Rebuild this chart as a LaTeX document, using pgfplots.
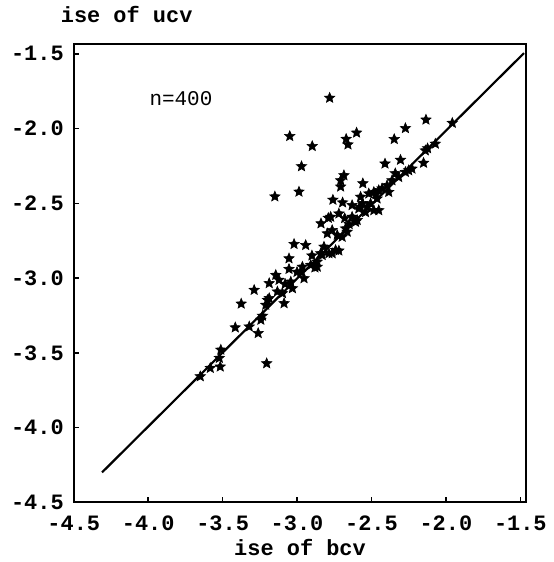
\documentclass[border=0pt]{standalone}
\usepackage{pgfplots}
\pgfplotsset{compat=1.18}
\usepackage{fontspec}
\setmainfont{Liberation Mono}
\pgfdeclareplotmark{fstar}{%
  \pgfpathmoveto{\pgfpointpolar{90}{\pgfplotmarksize}}%
  \pgfpathlineto{\pgfpointpolar{126}{0.45\pgfplotmarksize}}%
  \pgfpathlineto{\pgfpointpolar{162}{\pgfplotmarksize}}%
  \pgfpathlineto{\pgfpointpolar{198}{0.45\pgfplotmarksize}}%
  \pgfpathlineto{\pgfpointpolar{234}{\pgfplotmarksize}}%
  \pgfpathlineto{\pgfpointpolar{270}{0.45\pgfplotmarksize}}%
  \pgfpathlineto{\pgfpointpolar{306}{\pgfplotmarksize}}%
  \pgfpathlineto{\pgfpointpolar{342}{0.45\pgfplotmarksize}}%
  \pgfpathlineto{\pgfpointpolar{18}{\pgfplotmarksize}}%
  \pgfpathlineto{\pgfpointpolar{54}{0.45\pgfplotmarksize}}%
  \pgfpathclose
  \pgfusepathqfillstroke
}
\begin{document}
\begin{tikzpicture}
\begin{axis}[
  scale only axis, width=227pt, height=230pt,
  xmin=-4.5, xmax=-1.46, ymin=-4.5, ymax=-1.433,
  xtick={-4.5,-4.0,-3.5,-3.0,-2.5,-2.0,-1.5},
  ytick={-4.5,-4.0,-3.5,-3.0,-2.5,-2.0,-1.5},
  xtick pos=bottom, ytick pos=left,
  tick align=inside, major tick length=2.5pt,
  axis line style={line width=1pt},
  tick style={line width=0.8pt, black},
  /pgf/number format/assume math mode=true,
  /pgf/number format/.cd, fixed, fixed zerofill, precision=1, /pgfplots/.cd,
  tick label style={font=\fontsize{11}{13}\selectfont\bfseries},
  xticklabel style={yshift=-3.5pt},
  yticklabel style={xshift=-1.5pt},
  xlabel={ise of bcv},
  xlabel style={font=\fontsize{11}{13}\selectfont\bfseries, yshift=3pt},
  ylabel={ise of ucv},
  ylabel style={font=\fontsize{11}{13}\selectfont\bfseries, rotate=-90, at={(rel axis cs:0,1)}, anchor=base west, xshift=-10pt, yshift=10.5pt},
  clip=false,
]
\addplot[black, line width=1.1pt] coordinates {(-4.31,-4.30) (-1.475,-1.495)};
\addplot[only marks, mark=fstar, mark size=2.7pt, black, mark options={fill=black, line width=0.3pt}] table {
x y
-2.781 -1.795
-3.049 -2.051
-2.898 -2.118
-2.670 -2.070
-2.658 -2.107
-2.600 -2.028
-2.970 -2.253
-2.987 -2.423
-3.149 -2.455
-2.347 -2.071
-2.272 -1.998
-2.134 -1.941
-1.957 -1.963
-2.409 -2.235
-2.305 -2.210
-2.138 -2.147
-2.150 -2.230
-2.685 -2.313
-2.707 -2.347
-2.707 -2.389
-2.558 -2.367
-2.759 -2.477
-2.694 -2.495
-2.573 -2.457
-2.071 -2.102
-2.228 -2.269
-2.272 -2.291
-2.317 -2.325
-2.362 -2.347
-2.395 -2.380
-2.484 -2.425
-2.451 -2.413
-2.429 -2.402
-2.518 -2.435
-2.462 -2.469
-2.506 -2.502
-2.451 -2.547
-2.573 -2.525
-2.596 -2.613
-2.630 -2.513
-2.585 -2.535
-2.529 -2.525
-2.774 -2.591
-2.719 -2.569
-2.630 -2.591
-2.607 -2.625
-2.839 -2.635
-2.764 -2.680
-2.674 -2.669
-2.697 -2.725
-2.730 -2.713
-2.942 -2.780
-2.819 -2.791
-2.719 -2.817
-2.831 -2.847
-2.864 -2.891
-3.020 -2.773
-2.786 -2.835
-3.054 -2.869
-2.964 -2.925
-2.908 -2.913
-3.054 -2.940
-3.143 -2.980
-3.121 -3.013
-3.187 -3.035
-3.042 -3.025
-3.031 -3.069
-3.098 -3.102
-3.288 -3.080
-3.187 -3.135
-3.210 -3.180
-3.087 -3.169
-3.375 -3.172
-3.232 -3.253
-3.415 -3.331
-3.321 -3.325
-3.261 -3.369
-3.512 -3.480
-3.516 -3.593
-3.583 -3.602
-3.650 -3.658
-3.204 -3.571
-3.522 -3.535
-2.864 -2.925
-2.953 -3.002
-3.132 -3.091
-3.199 -3.147
-3.243 -3.280
-2.797 -2.702
-2.663 -2.691
-2.484 -2.547
-2.790 -2.598
-2.975 -2.958
-2.764 -2.835
-2.123 -2.133
-2.250 -2.280
-2.384 -2.425
-2.841 -2.835
-2.741 -2.813
-2.560 -2.500
-2.540 -2.560
-2.650 -2.640
-2.680 -2.600
-2.900 -2.850
-2.880 -2.930
-3.000 -2.960
-3.080 -3.040
-2.470 -2.440
-2.340 -2.300
};
\node[font=\fontsize{10.5}{12}\selectfont] at (axis cs:-3.78,-1.80) {n=400};
\end{axis}
\path ([xshift=-37pt,yshift=-29.5pt]current axis.south west) ([xshift=13.5pt,yshift=21.5pt]current axis.north east);
\end{tikzpicture}
\end{document}
